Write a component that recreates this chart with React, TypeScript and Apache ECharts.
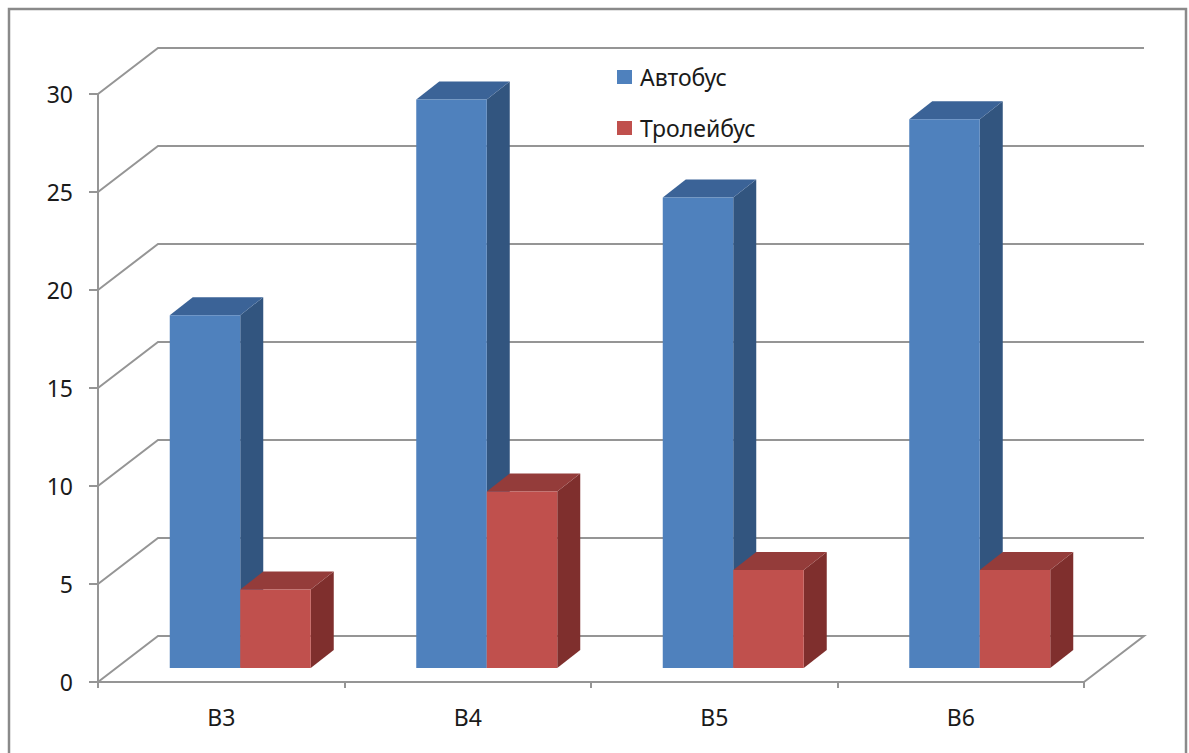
import React, { useEffect, useRef } from "react";
import * as echarts from "echarts";

const categories = ["B3", "B4", "B5", "B6"];
const busValues = [18, 29, 24, 28];
const trolleyValues = [4, 9, 5, 5];
const yTicks = [0, 5, 10, 15, 20, 25, 30];
const seriesNames = ["Автобус", "Тролейбус"];

const FONT = "'Noto Sans', sans-serif";
const LINE = "#959595";
const WALL_DX = 60;
const WALL_DY = -46;
const SHIFT_X = 19;
const SHIFT_Y = -14;
const BAR_DX = 23;
const BAR_DY = -18;
const BAR_FRAC = 0.286;

const palettes = [
  { front: "#4F81BD", top: "#3B6397", side: "#32557F" },
  { front: "#C0504D", top: "#943C3A", side: "#7F2F2D" },
];

function barRender(seriesIdx: number) {
  const pal = palettes[seriesIdx];
  return (params: any, api: any) => {
    const idx = api.value(0);
    const v = api.value(1);
    const base = api.coord([idx, 0]);
    const topPt = api.coord([idx, v]);
    const band = api.size([1, 0])[0];
    const w = band * BAR_FRAC;
    const x0 = base[0] + SHIFT_X + (seriesIdx === 0 ? -w : 0);
    const x1 = x0 + w;
    const yb = base[1] + SHIFT_Y;
    const yt = topPt[1] + SHIFT_Y;
    return {
      type: "group",
      children: [
        {
          type: "polygon",
          shape: { points: [[x1, yb], [x1 + BAR_DX, yb + BAR_DY], [x1 + BAR_DX, yt + BAR_DY], [x1, yt]] },
          style: { fill: pal.side },
        },
        {
          type: "polygon",
          shape: { points: [[x0, yt], [x0 + BAR_DX, yt + BAR_DY], [x1 + BAR_DX, yt + BAR_DY], [x1, yt]] },
          style: { fill: pal.top },
        },
        {
          type: "rect",
          shape: { x: x0, y: yt, width: w, height: yb - yt },
          style: { fill: pal.front },
        },
      ],
    };
  };
}

function wallRender(params: any, api: any) {
  const cs = params.coordSys;
  const v = api.value(1);
  const y = api.coord([0, v])[1];
  const pts: number[][] = [
    [cs.x, y],
    [cs.x + WALL_DX, y + WALL_DY],
    [cs.x + cs.width + WALL_DX, y + WALL_DY],
  ];
  if (v === 0) pts.push([cs.x + cs.width, y]);
  return {
    type: "polyline",
    shape: { points: pts },
    style: { stroke: LINE, lineWidth: 2, fill: null },
    silent: true,
  };
}

export default function App() {
  const ref = useRef<HTMLDivElement>(null);
  useEffect(() => {
    document.body.style.margin = "0";
    const chart = echarts.init(ref.current!, null, { renderer: "svg" });
    chart.setOption({
      animation: false,
      backgroundColor: "#ffffff",
      graphic: [
        {
          type: "rect",
          shape: { x: 9, y: 9, width: 1177, height: 770 },
          style: { fill: "none", stroke: "#8a8a8a", lineWidth: 2.5 },
          silent: true,
        },
      ],
      legend: {
        data: seriesNames,
        orient: "vertical",
        left: 617,
        top: 64,
        padding: 0,
        icon: "rect",
        itemWidth: 15,
        itemHeight: 14,
        itemGap: 25,
        textStyle: { fontFamily: FONT, fontSize: 23, color: "#1a1a1a", lineHeight: 26, padding: [0, 0, 0, 3] },
      },
      grid: { left: 98, right: 105, top: 94, bottom: 71, containLabel: false },
      xAxis: {
        type: "category",
        data: categories,
        axisLine: { show: true, lineStyle: { color: LINE, width: 2 } },
        axisTick: { show: true, length: 6, lineStyle: { color: LINE, width: 2 } },
        axisLabel: { margin: 23, fontFamily: FONT, fontSize: 23, color: "#1a1a1a" },
        splitLine: { show: false },
      },
      yAxis: {
        type: "value",
        min: 0,
        max: 30,
        interval: 5,
        axisLine: { show: true, lineStyle: { color: LINE, width: 2 } },
        axisTick: { show: true, length: 9, lineStyle: { color: LINE, width: 2 } },
        axisLabel: { margin: 25, fontFamily: FONT, fontSize: 23, color: "#1a1a1a" },
        splitLine: { show: false },
      },
      series: [
        {
          type: "custom",
          name: "walls",
          renderItem: wallRender,
          data: yTicks.map((v) => [0, v]),
          encode: { x: 0, y: 1 },
          silent: true,
          z: 1,
        },
        {
          type: "custom",
          name: seriesNames[0],
          renderItem: barRender(0),
          data: busValues.map((v, i) => [i, v]),
          encode: { x: 0, y: 1 },
          itemStyle: { color: palettes[0].front },
          z: 2,
        },
        {
          type: "custom",
          name: seriesNames[1],
          renderItem: barRender(1),
          data: trolleyValues.map((v, i) => [i, v]),
          encode: { x: 0, y: 1 },
          itemStyle: { color: palettes[1].front },
          z: 3,
        },
      ],
    });
    return () => chart.dispose();
  }, []);
  return <div ref={ref} style={{ width: 1189, height: 753 }} />;
}
